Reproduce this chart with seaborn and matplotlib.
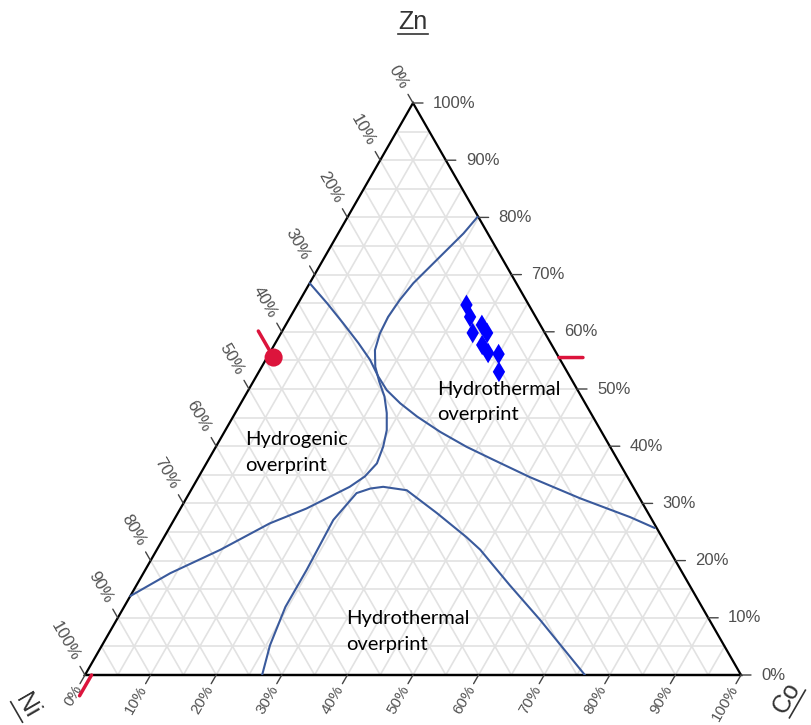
import numpy as np
import pandas as pd
import matplotlib
matplotlib.use("Agg")
import matplotlib.pyplot as plt
import seaborn as sns
from matplotlib.transforms import offset_copy
from matplotlib.lines import Line2D

# ---------------- data (percent) ----------------
axis_titles = ["Zn", "Ni", "Co"]
tick_values = [0, 10, 20, 30, 40, 50, 60, 70, 80, 90, 100]
tick_labels = [f"{v}%" for v in tick_values]

sample_zn = [64.7, 62.6, 61.2, 59.8, 59.8, 57.7, 56.3, 56.1, 53.0]
sample_co = [25.8, 27.4, 29.9, 29.2, 31.4, 31.7, 33.3, 35.0, 36.6]

hover_zn = [55.5]
hover_co = [1.0]

curve1_zn = [80.1, 77.2, 74.3, 71.4, 68.5, 65.6, 62.6, 59.7, 56.8, 53.9, 51.3, 48.7,
             45.8, 42.8, 39.9, 37.0, 34.7, 32.9, 31.2, 29.1, 26.5, 21.9, 17.8, 13.8]
curve1_co = [19.8, 19.1, 18.0, 16.9, 15.8, 15.2, 14.9, 15.1, 15.8, 17.3, 19.2, 21.3,
             23.1, 24.6, 25.5, 26.0, 25.3, 23.9, 21.8, 19.2, 14.9, 9.7, 4.1, 0.0]

curve2_zn = [68.5, 65.0, 61.5, 58.0, 55.1, 52.2, 49.8, 47.5, 45.2, 42.5, 39.9, 37.6,
             34.6, 30.9, 27.6, 25.7]
curve2_co = [0.0, 4.4, 8.6, 12.7, 15.9, 18.6, 21.1, 24.3, 28.0, 32.9, 38.2, 43.5,
             50.5, 60.0, 69.3, 74.0]

curve3_zn = [0.0, 5.2, 11.9, 18.4, 27.1, 31.8, 32.6, 32.9, 32.3, 28.3, 24.1,
             21.9, 15.7, 9.6, 0.0]
curve3_co = [27.0, 25.6, 24.6, 24.6, 24.3, 25.5, 27.2, 29.0, 32.9, 39.5, 46.1,
             49.3, 56.9, 64.6, 76.2]

region_labels = ["Hydrothermal\noverprint", "Hydrogenic\noverprint", "Hydrothermal\noverprint"]
region_pos_x = [0.537, 0.244, 0.398]
region_pos_y = [0.413, 0.337, 0.0656]

# ---------------- helpers ----------------
H = np.sqrt(3) / 2


def tern(zn, co):
    zn = np.asarray(zn, dtype=float) / 100.0
    co = np.asarray(co, dtype=float) / 100.0
    return co + zn / 2, zn * H


W, HH = 812, 725
fig = plt.figure(figsize=(W / 100, HH / 100), dpi=100)
ax = fig.add_axes([85 / W, 50 / HH, 656 / W, 572 / HH])
ax.set_xlim(0, 1)
ax.set_ylim(0, H)
ax.axis("off")


def off(dx, dy):
    return offset_copy(ax.transData, fig=fig, x=dx, y=dy, units="dots")


def seg(x, y, dx, dy, color, lw):
    ax.annotate("", xy=(x, y), xytext=(dx, dy), textcoords="offset pixels",
                arrowprops=dict(arrowstyle="-", color=color, lw=lw, shrinkA=0, shrinkB=0),
                annotation_clip=False)


grid_c = "#e2e2e2"
for k in range(5, 100, 5):
    f = k / 100
    ax.plot([f / 2, 1 - f / 2], [f * H, f * H], color=grid_c, lw=1.2, zorder=1)
    ax.plot([f, f + (1 - f) / 2], [0, (1 - f) * H], color=grid_c, lw=1.2, zorder=1)
    ax.plot([1 - f, (1 - f) / 2], [0, (1 - f) * H], color=grid_c, lw=1.2, zorder=1)

# triangle edges
ax.plot([0, 1, 0.5, 0, 1], [0, 0, H, 0, 0], color="black", lw=1.6, zorder=3,
        solid_joinstyle="miter", clip_on=False)

# ticks and labels
tick_c = "#444444"
lab_c = "#505050"
lab_font = dict(fontsize=12, color=lab_c, family="Liberation Sans")
c60, s60 = 0.5, np.sqrt(3) / 2
for v, lab in zip(tick_values, tick_labels):
    f = v / 100
    # Zn (right edge)
    px, py = 1 - f / 2, f * H
    seg(px, py, 10, 0, tick_c, 1)
    ax.text(px, py, lab, transform=off(20, 0), ha="left", va="center", **lab_font)

    # Ni (left edge)
    px, py = (1 - f) / 2, (1 - f) * H
    seg(px, py, -10 * c60, 10 * s60, tick_c, 1)
    ax.text(px, py, lab, transform=off(-18 * c60, 18 * s60), ha="right", va="center",
            rotation=-60, rotation_mode="anchor", **lab_font)

    # Co (bottom edge)
    px, py = f, 0
    seg(px, py, -10 * c60, -10 * s60, tick_c, 1)
    ax.text(px, py, lab, transform=off(-13 * c60, -13 * s60), ha="right", va="center",
            rotation=60, rotation_mode="anchor", fontsize=11, color=lab_c,
            family="Liberation Sans")

# boundary curves
line_c = "#3a5a9c"
for zn, co in [(curve1_zn, curve1_co), (curve2_zn, curve2_co), (curve3_zn, curve3_co)]:
    x, y = tern(zn, co)
    sns.lineplot(x=x, y=y, sort=False, estimator=None, color=line_c, lw=1.5, ax=ax,
                 zorder=4, solid_joinstyle="round", solid_capstyle="round")

# sample points
sx, sy = tern(sample_zn, sample_co)
sns.scatterplot(x=sx, y=sy, marker="d", s=110, color="#0000ff", edgecolor="none",
                linewidth=0, ax=ax, zorder=5)

# hover highlight
red = "#dc143c"
hx, hy = tern(hover_zn, hover_co)
sns.scatterplot(x=hx, y=hy, marker="o", s=170, color=red, edgecolor="none", ax=ax,
                zorder=6, clip_on=False)
zn0 = hover_zn[0] / 100
co0 = hover_co[0] / 100
ni0 = 1 - zn0 - co0
seg(1 - zn0 / 2, zn0 * H, 24, 0, red, 2.5)
seg((1 - ni0) / 2, (1 - ni0) * H, -24 * c60, 24 * s60, red, 2.5)
seg(co0, 0, -24 * c60, -24 * s60, red, 2.5)

# region labels
for lab, x, y in zip(region_labels, region_pos_x, region_pos_y):
    ax.text(x, y, lab, ha="left", va="center", fontsize=14.5, family="Lato",
            color="black", linespacing=1.6, zorder=7)

# axis titles with underline
fig.canvas.draw()
renderer = fig.canvas.get_renderer()
title_c = "#333333"
title_pos = [(413, 22, 0), (27, 706, -60), (787, 698, 60)]
for name, (cx, cy, rot) in zip(axis_titles, title_pos):
    fx, fy = cx / W, 1 - cy / HH
    tmp = fig.text(0, 0, name, fontsize=18, family="Liberation Sans")
    w = tmp.get_window_extent(renderer).width
    tmp.remove()
    fig.text(fx, fy, name, fontsize=18, family="Liberation Sans", color=title_c,
             ha="center", va="center", rotation=rot, rotation_mode="anchor")
    th = np.deg2rad(rot)
    u = np.array([np.cos(th), np.sin(th)])
    n = np.array([np.sin(th), -np.cos(th)])
    c = np.array([cx, HH - cy], dtype=float)
    d = 12.0
    p0 = c - u * w / 2 + n * d
    p1 = c + u * w / 2 + n * d
    fig.add_artist(Line2D([p0[0] / W, p1[0] / W], [p0[1] / HH, p1[1] / HH],
                          transform=fig.transFigure, color=title_c, lw=1.2))

fig.savefig("out.png", dpi=100, facecolor="white")
